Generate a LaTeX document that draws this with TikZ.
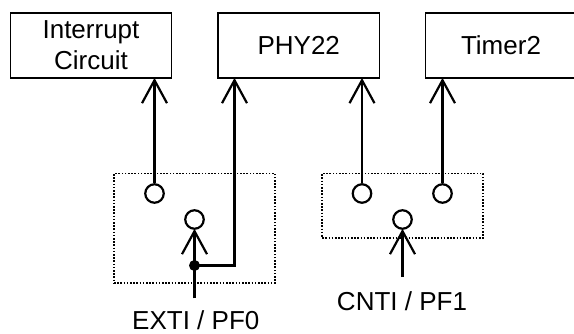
\documentclass[tikz,border=0pt]{standalone}
\usepackage{fontspec}
\setmainfont{Liberation Sans}
\usetikzlibrary{arrows.meta}
\tikzset{
  x=1pt,y=-1pt,
  box/.style={draw,line width=1.8pt,minimum height=65pt,inner sep=0pt,align=center,font=\fontsize{26}{31}\selectfont},
  txt/.style={inner sep=0pt,anchor=base,font=\fontsize{26}{31}\selectfont},
  port/.style={circle,draw,line width=2.2pt,minimum size=18.5pt,inner sep=0pt},
  dotbox/.style={draw,line width=1.5pt,dash pattern=on 1.6pt off 1.6pt,inner sep=0pt},
  wire/.style={line width=2.2pt},
  into/.style={wire,-{Straight Barb[length=23pt,width=25pt,line width=2.2pt]},shorten >=-1pt},
  junction/.style={circle,fill=black,minimum size=11pt,inner sep=0pt},
}
\begin{document}
\begin{tikzpicture}
\useasboundingbox (0,0) rectangle (574,333);
\node[box,minimum width=161pt] (intr) at (91,45.5) {Interrupt\\Circuit};
\node[box,minimum width=161.5pt] (phy) at (298.75,45.5) {PHY22};
\node[box,minimum width=151pt] (tim) at (501,45.5) {Timer2};
\node[dotbox,minimum width=161pt,minimum height=109.5pt] (g1) at (194.5,228.3) {};
\node[dotbox,minimum width=161pt,minimum height=64.5pt] (g2) at (402.6,205.7) {};
\node[port] (a1) at (154.5,193.5) {};
\node[port] (a2) at (194.5,219.5) {};
\node[port] (b1) at (362,193.5) {};
\node[port] (b2) at (442.5,193.5) {};
\node[port] (b3) at (402.5,219.5) {};
\node[junction] (j) at (194.5,265.5) {};
\coordinate (e) at (194.5,298.3);
\coordinate (c) at (402.5,277);
\coordinate (turn) at (234.5,265.5);
\node[txt] (extil) at (195.8,329) {EXTI / PF0};
\node[txt] (cntil) at (402,310) {CNTI / PF1};
\draw[into] (a1.north) -- (a1.north |- intr.south);
\draw[into] (b1.north) -- (b1.north |- phy.south);
\draw[into] (b2.north) -- (b2.north |- tim.south);
\draw[into] (e) -- (a2.south);
\draw[into] (c) -- (b3.south);
\draw[into] (j.center) -- (turn) -- (turn |- phy.south);
\end{tikzpicture}
\end{document}
